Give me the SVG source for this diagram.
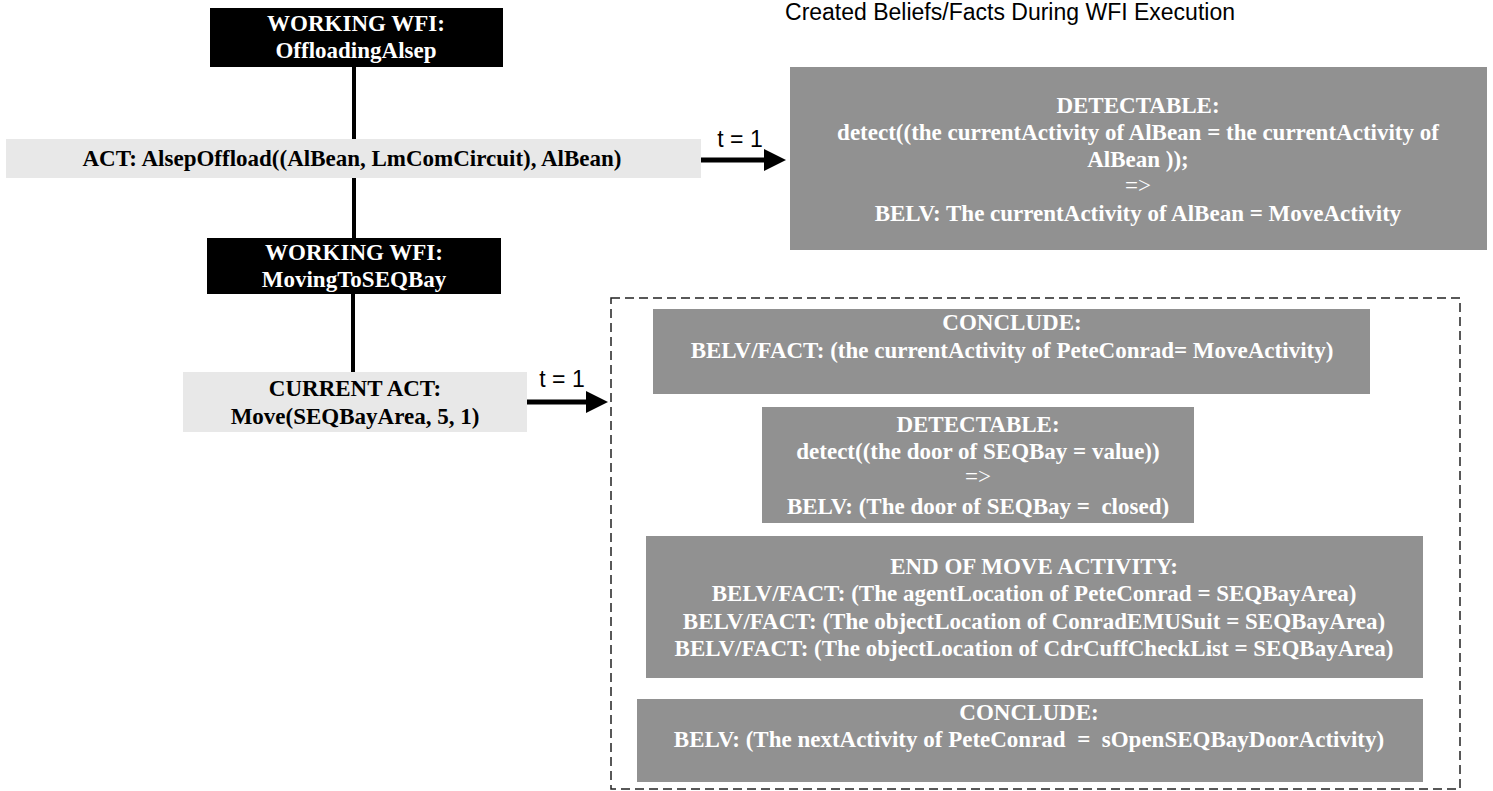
<svg xmlns="http://www.w3.org/2000/svg" width="1493" height="791" viewBox="0 0 1493 791">
  <style>
    .wfi { fill: #000000; }
    .act { fill: #e8e8e8; }
    .belief { fill: #919191; }
    .t { font-family: "Liberation Serif", "Times New Roman", serif; font-weight: bold; font-size: 23px; text-anchor: middle; white-space: pre; }
    .tw { fill: #ffffff; }
    .tb { fill: #000000; }
    .thin { font-weight: normal; }
    .label { font-family: "Liberation Sans", Arial, sans-serif; font-size: 23px; fill: #000000; }
    .link { stroke: #000000; stroke-width: 4; fill: none; }
    .flow { stroke: #000000; stroke-width: 5; fill: none; }
    .frame { fill: none; stroke: #222222; stroke-width: 1.5; stroke-dasharray: 9 5; }
  </style>
  <defs>
    <marker id="head" markerWidth="22" markerHeight="22" viewBox="0 0 22 22" refX="0" refY="11" markerUnits="userSpaceOnUse" orient="auto">
      <path d="M0,0 L22,11 L0,22 Z" fill="#000000"/>
    </marker>
  </defs>

  <rect width="1493" height="791" fill="#ffffff"/>

  <!-- heading -->
  <text class="label" x="1010" y="20" text-anchor="middle">Created Beliefs/Facts During WFI Execution</text>

  <!-- connectors -->
  <g id="connectors">
    <line class="link" x1="354" y1="67" x2="354" y2="140"/>
    <line class="link" x1="354" y1="178" x2="354" y2="238"/>
    <line class="link" x1="353" y1="294" x2="353" y2="372"/>
    <line class="flow" x1="701" y1="160" x2="764" y2="160" marker-end="url(#head)"/>
    <text class="label" x="740" y="147" text-anchor="middle">t = 1</text>
    <line class="flow" x1="522" y1="402" x2="586" y2="402" marker-end="url(#head)"/>
    <text class="label" x="562" y="387" text-anchor="middle">t = 1</text>
  </g>

  <!-- workframe instances and activities -->
  <g id="wfi-offloading">
    <rect class="wfi" x="210" y="8" width="293" height="59"/>
    <text class="t tw" x="356" y="31">WORKING WFI:</text>
    <text class="t tw" x="356" y="58">OffloadingAlsep</text>
  </g>

  <g id="act-alsep-offload">
    <rect class="act" x="6" y="139" width="695" height="39"/>
    <text class="t tb" x="352" y="166">ACT: AlsepOffload((AlBean, LmComCircuit), AlBean)</text>
  </g>

  <g id="wfi-moving">
    <rect class="wfi" x="207" y="238" width="294" height="56"/>
    <text class="t tw" x="354" y="260">WORKING WFI:</text>
    <text class="t tw" x="354" y="287">MovingToSEQBay</text>
  </g>

  <g id="act-move">
    <rect class="act" x="183" y="372" width="344" height="60"/>
    <text class="t tb" x="355" y="396">CURRENT ACT:</text>
    <text class="t tb" x="355" y="424">Move(SEQBayArea, 5, 1)</text>
  </g>

  <!-- beliefs created by the offload activity -->
  <g id="belief-detect-albean">
    <rect class="belief" x="790" y="67" width="697" height="183"/>
    <text class="t tw" x="1138" y="113">DETECTABLE:</text>
    <text class="t tw" x="1138" y="140">detect((the currentActivity of AlBean = the currentActivity of</text>
    <text class="t tw" x="1138" y="167">AlBean ));</text>
    <text class="t tw thin" x="1138" y="193">=&gt;</text>
    <text class="t tw" x="1138" y="221">BELV: The currentActivity of AlBean = MoveActivity</text>
  </g>

  <!-- beliefs created by the move activity -->
  <g id="move-results">
    <rect class="frame" x="611" y="298" width="849" height="491"/>
  </g>

  <g id="belief-conclude-current">
    <rect class="belief" x="653" y="309" width="717" height="85"/>
    <text class="t tw" x="1012" y="330">CONCLUDE:</text>
    <text class="t tw" x="1012" y="358">BELV/FACT: (the currentActivity of PeteConrad= MoveActivity)</text>
  </g>

  <g id="belief-detect-door">
    <rect class="belief" x="762" y="407" width="432" height="116"/>
    <text class="t tw" x="978" y="432">DETECTABLE:</text>
    <text class="t tw" x="978" y="459">detect((the door of SEQBay = value))</text>
    <text class="t tw thin" x="978" y="484">=&gt;</text>
    <text class="t tw" x="978" y="514">BELV: (The door of SEQBay =  closed)</text>
  </g>

  <g id="belief-end-move">
    <rect class="belief" x="646" y="536" width="777" height="142"/>
    <text class="t tw" x="1034" y="574">END OF MOVE ACTIVITY:</text>
    <text class="t tw" x="1034" y="601">BELV/FACT: (The agentLocation of PeteConrad = SEQBayArea)</text>
    <text class="t tw" x="1034" y="629">BELV/FACT: (The objectLocation of ConradEMUSuit = SEQBayArea)</text>
    <text class="t tw" x="1034" y="656">BELV/FACT: (The objectLocation of CdrCuffCheckList = SEQBayArea)</text>
  </g>

  <g id="belief-conclude-next">
    <rect class="belief" x="637" y="699" width="786" height="83"/>
    <text class="t tw" x="1029" y="720">CONCLUDE:</text>
    <text class="t tw" x="1029" y="747">BELV: (The nextActivity of PeteConrad  =  sOpenSEQBayDoorActivity)</text>
  </g>
</svg>
